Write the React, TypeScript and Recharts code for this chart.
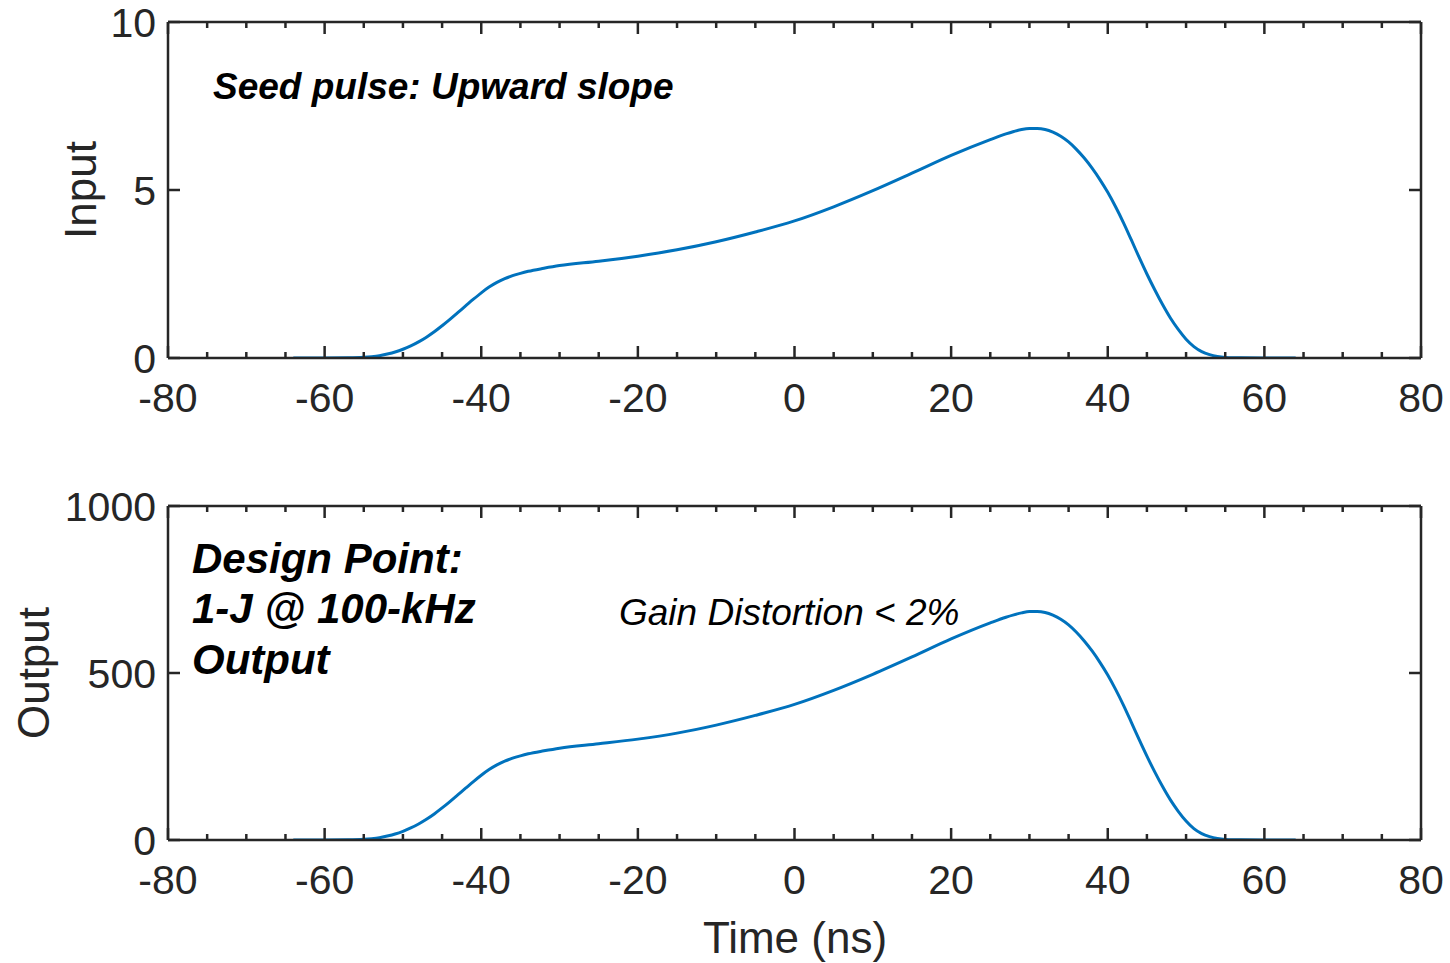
import React from 'react';
import { LineChart, Line, XAxis, YAxis } from 'recharts';

const timeNs = [-64, -60, -57, -55, -54, -53, -52, -51, -50, -49, -48, -47, -46, -45, -44, -43, -42, -41, -40, -39, -38, -37, -36, -35, -34, -32, -30, -25, -20, -15, -10, -5, 0, 5, 10, 15, 20, 25, 27, 28, 29, 30, 31, 32, 33, 34, 35, 36, 37, 38, 39, 40, 41, 42, 43, 44, 45, 46, 47, 48, 49, 50, 51, 52, 53, 54, 55, 57, 60, 64];
const inputValues = [0, 0, 0.005, 0.02, 0.04, 0.07, 0.12, 0.18, 0.26, 0.36, 0.48, 0.62, 0.78, 0.96, 1.15, 1.35, 1.55, 1.75, 1.94, 2.11, 2.25, 2.36, 2.45, 2.52, 2.58, 2.67, 2.75, 2.88, 3.03, 3.22, 3.46, 3.75, 4.08, 4.5, 4.98, 5.5, 6.03, 6.5, 6.67, 6.74, 6.8, 6.83, 6.83, 6.8, 6.72, 6.6, 6.43, 6.21, 5.95, 5.65, 5.31, 4.93, 4.5, 4.03, 3.52, 3.0, 2.5, 2.03, 1.59, 1.19, 0.85, 0.56, 0.34, 0.19, 0.1, 0.045, 0.018, 0.004, 0, 0];
const outputValues = [0, 0, 0.5, 2, 4, 7, 12, 18, 26, 36, 48, 62, 78, 96, 115, 135, 155, 175, 194, 211, 225, 236, 245, 252, 258, 267, 275, 288, 302, 320, 344, 373, 406, 448, 496, 548, 602, 650, 667, 674, 680, 684, 684, 681, 673, 661, 644, 622, 596, 566, 532, 494, 451, 404, 353, 301, 251, 204, 160, 120, 86, 57, 34, 19, 10, 4.5, 1.8, 0.4, 0, 0];

const xTicks = [-80, -75, -70, -65, -60, -55, -50, -45, -40, -35, -30, -25, -20, -15, -10, -5, 0, 5, 10, 15, 20, 25, 30, 35, 40, 45, 50, 55, 60, 65, 70, 75, 80];
const xMajorTicks = [-80, -60, -40, -20, 0, 20, 40, 60, 80];
const inputTicks = [0, 5, 10];
const outputTicks = [0, 500, 1000];

const inputData = timeNs.map((t, i) => ({ t, v: inputValues[i] }));
const outputData = timeNs.map((t, i) => ({ t, v: outputValues[i] }));

const AXIS = '#262626';
const LINE = '#0072BD';
const FONT = '"Liberation Sans", Arial, Helvetica, sans-serif';
const TICK_FS = 41;

function BottomTick(props: any) {
  const { x, y, payload } = props;
  const major = xMajorTicks.includes(payload.value);
  return (
    <g>
      <line x1={x} x2={x} y1={y} y2={y - (major ? 12 : 6)} stroke={AXIS} strokeWidth={2.5} />
      {major && (
        <text x={x} y={y + 54} textAnchor="middle" fill={AXIS} fontSize={TICK_FS} fontFamily={FONT}>
          {payload.value}
        </text>
      )}
    </g>
  );
}

function TopTick(props: any) {
  const { x, y, payload } = props;
  const major = xMajorTicks.includes(payload.value);
  return <line x1={x} x2={x} y1={y} y2={y + (major ? 12 : 6)} stroke={AXIS} strokeWidth={2.5} />;
}

function LeftTick(props: any) {
  const { x, y, payload } = props;
  return (
    <g>
      <line x1={x} x2={x + 12} y1={y} y2={y} stroke={AXIS} strokeWidth={2.5} />
      <text x={x - 12} y={y + 15} textAnchor="end" fill={AXIS} fontSize={TICK_FS} fontFamily={FONT}>
        {payload.value}
      </text>
    </g>
  );
}

function RightTick(props: any) {
  const { x, y } = props;
  return <line x1={x} x2={x - 12} y1={y} y2={y} stroke={AXIS} strokeWidth={2.5} />;
}

function Panel({ data, height, top, yDomain, yTicks, xAxisHeight }: any) {
  return (
    <LineChart width={1450} height={height} data={data} margin={{ top: top - 1, right: 28, bottom: 0, left: 0 }}>
      <XAxis
        xAxisId="b"
        dataKey="t"
        type="number"
        domain={[-80, 80]}
        ticks={xTicks}
        interval={0}
        height={xAxisHeight}
        tickSize={0}
        tickMargin={0}
        tickLine={false}
        axisLine={{ stroke: AXIS, strokeWidth: 2.5 }}
        tick={<BottomTick />}
        allowDataOverflow
      />
      <XAxis
        xAxisId="t"
        orientation="top"
        dataKey="t"
        type="number"
        domain={[-80, 80]}
        ticks={xTicks}
        interval={0}
        height={1}
        tickSize={0}
        tickMargin={0}
        tickLine={false}
        axisLine={{ stroke: AXIS, strokeWidth: 2.5 }}
        tick={<TopTick />}
        allowDataOverflow
      />
      <YAxis
        yAxisId="l"
        type="number"
        domain={yDomain}
        ticks={yTicks}
        interval={0}
        width={168}
        tickSize={0}
        tickMargin={0}
        tickLine={false}
        axisLine={{ stroke: AXIS, strokeWidth: 2.5 }}
        tick={<LeftTick />}
        allowDataOverflow
      />
      <YAxis
        yAxisId="r"
        orientation="right"
        type="number"
        domain={yDomain}
        ticks={yTicks}
        interval={0}
        width={1}
        tickSize={0}
        tickMargin={0}
        tickLine={false}
        axisLine={{ stroke: AXIS, strokeWidth: 2.5 }}
        tick={<RightTick />}
        allowDataOverflow
      />
      <Line
        xAxisId="b"
        yAxisId="l"
        dataKey="v"
        type="monotone"
        stroke={LINE}
        strokeWidth={3}
        dot={false}
        activeDot={false}
        isAnimationActive={false}
      />
    </LineChart>
  );
}

export default function App() {
  return (
    <div style={{ position: 'absolute', left: 0, top: 0, width: 1450, height: 963, background: '#fff' }}>
      <div style={{ position: 'absolute', left: 0, top: 0 }}>
        <Panel data={inputData} height={450} top={22} yDomain={[0, 10]} yTicks={inputTicks} xAxisHeight={92} />
      </div>
      <div style={{ position: 'absolute', left: 0, top: 450 }}>
        <Panel data={outputData} height={513} top={56} yDomain={[0, 1000]} yTicks={outputTicks} xAxisHeight={123} />
      </div>
      <svg
        width={1450}
        height={963}
        style={{ position: 'absolute', left: 0, top: 0, pointerEvents: 'none' }}
      >
        <text x={213} y={99} fontSize={37} fontStyle="italic" fontWeight="bold" fontFamily={FONT} fill="#000">
          Seed pulse: Upward slope
        </text>
        <text x={192} y={573} fontSize={42} fontStyle="italic" fontWeight="bold" fontFamily={FONT} fill="#000">
          Design Point:
        </text>
        <text x={192} y={623} fontSize={42} fontStyle="italic" fontWeight="bold" fontFamily={FONT} fill="#000">
          1-J @ 100-kHz
        </text>
        <text x={192} y={674} fontSize={42} fontStyle="italic" fontWeight="bold" fontFamily={FONT} fill="#000">
          Output
        </text>
        <text x={619} y={625} fontSize={37} fontStyle="italic" fontFamily={FONT} fill="#000">
          Gain Distortion &lt; 2%
        </text>
        <text x={96} y={190} transform="rotate(-90 96 190)" textAnchor="middle" fontSize={44} fontFamily={FONT} fill={AXIS}>
          Input
        </text>
        <text x={49} y={673} transform="rotate(-90 49 673)" textAnchor="middle" fontSize={44} fontFamily={FONT} fill={AXIS}>
          Output
        </text>
        <text x={795} y={953} textAnchor="middle" fontSize={44} fontFamily={FONT} fill={AXIS}>
          Time (ns)
        </text>
      </svg>
    </div>
  );
}
